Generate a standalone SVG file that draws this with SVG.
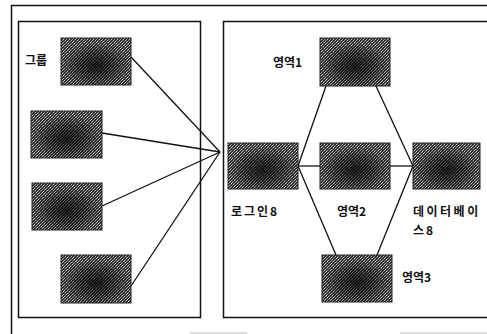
<svg xmlns="http://www.w3.org/2000/svg" width="487" height="334" viewBox="0 0 487 334">
<style>
.frame{fill:none;stroke:#111;stroke-width:1.5}
.node{fill:url(#dither);stroke:#222;stroke-width:1}
.conn{stroke:#111;stroke-width:1.3;fill:none}
.lbl{font-family:"Noto Sans CJK KR","DejaVu Sans",sans-serif;font-size:12px;font-weight:bold;fill:#111}
</style>
<defs>
<pattern id="dither" patternUnits="userSpaceOnUse" width="6" height="6">
<rect width="6" height="6" fill="#333"/>
<rect x="0" y="0" width="1" height="1" fill="#c8c8c8"/>
<rect x="3" y="0" width="1" height="1" fill="#9a9a9a"/>
<rect x="2" y="1" width="1" height="1" fill="#d0d0d0"/>
<rect x="5" y="1" width="1" height="1" fill="#888"/>
<rect x="1" y="2" width="1" height="1" fill="#a8a8a8"/>
<rect x="4" y="2" width="1" height="1" fill="#c0c0c0"/>
<rect x="0" y="3" width="1" height="1" fill="#909090"/>
<rect x="3" y="3" width="1" height="1" fill="#d8d8d8"/>
<rect x="2" y="4" width="1" height="1" fill="#8a8a8a"/>
<rect x="5" y="4" width="1" height="1" fill="#b8b8b8"/>
<rect x="1" y="5" width="1" height="1" fill="#c4c4c4"/>
<rect x="4" y="5" width="1" height="1" fill="#7a7a7a"/>
</pattern>
<radialGradient id="shade" cx="0.5" cy="0.58" r="0.5">
<stop offset="0" stop-color="#0a0a0a" stop-opacity="0.85"/>
<stop offset="0.55" stop-color="#0a0a0a" stop-opacity="0.45"/>
<stop offset="1" stop-color="#0a0a0a" stop-opacity="0"/>
</radialGradient>
</defs>
<rect width="487" height="334" fill="#fff"/>
<g id="outer-frame">
<path class="frame" d="M11.5,334 V5.5 H487"/>
<path d="M190,333 H247 M400,333 H487" stroke="#bbb" stroke-width="1"/>
</g>
<g id="group-left"><rect class="frame" x="18.5" y="21.5" width="182" height="296"/></g>
<g id="group-right"><rect class="frame" x="223.5" y="21.5" width="280" height="296"/></g>
<g id="connectors">
<line class="conn" x1="131" y1="57" x2="220" y2="152"/>
<line class="conn" x1="102" y1="133" x2="220" y2="152"/>
<line class="conn" x1="102" y1="206" x2="220" y2="152"/>
<line class="conn" x1="131" y1="286" x2="220" y2="152"/>
<line class="conn" x1="298" y1="166" x2="326" y2="86"/>
<line class="conn" x1="298" y1="166" x2="320" y2="166"/>
<line class="conn" x1="298" y1="166" x2="336" y2="255"/>
<line class="conn" x1="376" y1="86" x2="413" y2="166"/>
<line class="conn" x1="390" y1="166" x2="413" y2="166"/>
<line class="conn" x1="377" y1="255" x2="413" y2="166"/>
</g>
<g id="label-group"><text class="lbl" x="25" y="65">그룹</text></g>
<g id="node-l1"><rect class="node" x="61" y="38" width="70" height="47"/><rect x="61" y="38" width="70" height="47" fill="url(#shade)"/></g>
<g id="node-l2"><rect class="node" x="31" y="111" width="71" height="47"/><rect x="31" y="111" width="71" height="47" fill="url(#shade)"/></g>
<g id="node-l3"><rect class="node" x="32" y="183" width="70" height="47"/><rect x="32" y="183" width="70" height="47" fill="url(#shade)"/></g>
<g id="node-l4"><rect class="node" x="61" y="255" width="70" height="48"/><rect x="61" y="255" width="70" height="48" fill="url(#shade)"/></g>
<g id="node-area1"><rect class="node" x="320" y="38" width="70" height="48"/><rect x="320" y="38" width="70" height="48" fill="url(#shade)"/><text class="lbl" x="273" y="67">영역1</text></g>
<g id="node-login"><rect class="node" x="228" y="143" width="70" height="46"/><rect x="228" y="143" width="70" height="46" fill="url(#shade)"/><text class="lbl" x="231" y="216" letter-spacing="2">로그인8</text></g>
<g id="node-area2"><rect class="node" x="320" y="143" width="70" height="46"/><rect x="320" y="143" width="70" height="46" fill="url(#shade)"/><text class="lbl" x="337" y="216">영역2</text></g>
<g id="node-db"><rect class="node" x="413" y="143" width="67" height="46"/><rect x="413" y="143" width="67" height="46" fill="url(#shade)"/><text class="lbl" x="413" y="216" letter-spacing="2.5">데이터베이</text><text class="lbl" x="413" y="235" letter-spacing="2">스8</text></g>
<g id="node-area3"><rect class="node" x="322" y="255" width="70" height="47"/><rect x="322" y="255" width="70" height="47" fill="url(#shade)"/><text class="lbl" x="402" y="282">영역3</text></g>
</svg>
